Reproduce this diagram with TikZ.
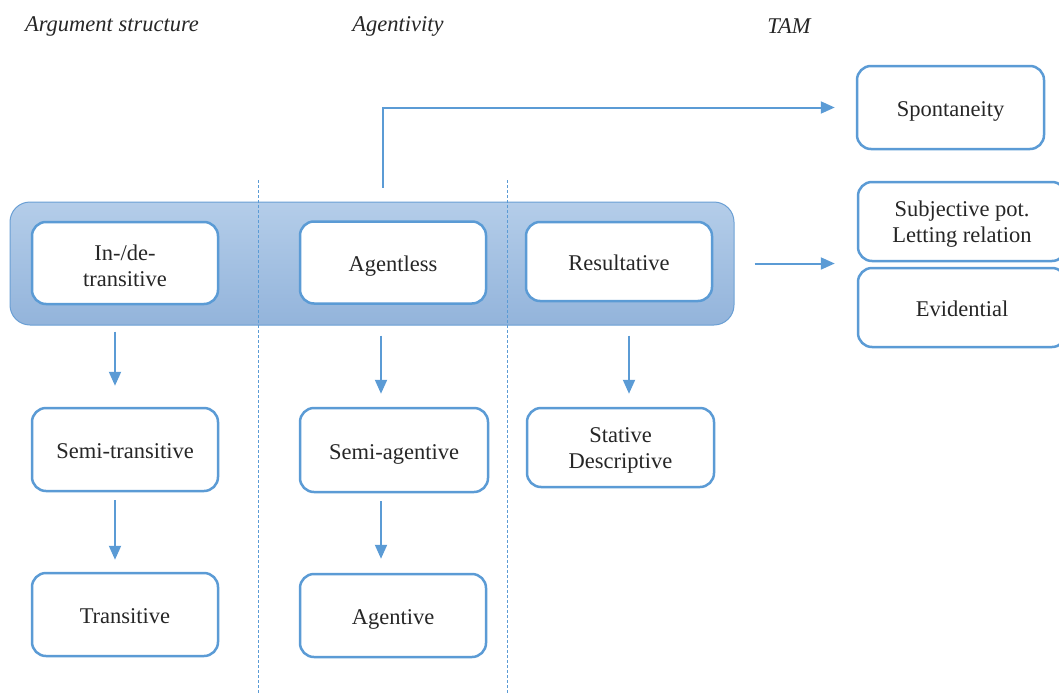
\documentclass[tikz,border=0pt]{standalone}
\usepackage{fontspec}
\setmainfont{Liberation Serif}
\usetikzlibrary{arrows.meta,positioning}
\definecolor{boxblue}{HTML}{5B9BD5}
\definecolor{bandtop}{HTML}{B4CDE9}
\definecolor{bandbot}{HTML}{93B4DB}
\definecolor{bandline}{HTML}{6A9FD4}
\newcommand{\firststrut}{\rule{0pt}{21pt}}
\tikzset{
  class/.style={draw=boxblue,line width=2.5pt,fill=white,rounded corners=14pt,
    minimum width=186pt,minimum height=82pt,align=center},
  oneline/.style={text height=23pt,text depth=5pt},
  band/.style={draw=bandline,line width=1pt,top color=bandtop,bottom color=bandbot,
    rounded corners=20pt,minimum width=724pt,minimum height=123pt},
  heading/.style={font=\fontsize{22.5}{26}\selectfont\itshape},
  divider/.style={boxblue,line width=0.8pt,dash pattern=on 3pt off 2pt},
}

\begin{document}
\begin{tikzpicture}[x=1pt,y=-1pt,>={Triangle[length=14pt,width=12pt]},
    arr/.style={->,boxblue,line width=2pt},
    font=\fontsize{22.5}{26}\selectfont,text=black!85]
    \useasboundingbox (0,0) rectangle (1059,693);

    \node[heading] (hArg) at (112,26) {Argument structure};
    \node[heading] (hAg) at (398,26) {Agentivity};
    \node[heading] (hTam) at (789,26) {TAM};

    \coordinate (d1top) at (258,180);
    \coordinate (d1bot) at (258,693);
    \coordinate (d2top) at (507,180);
    \coordinate (d2bot) at (507,693);

    \node[band] (band) at (372,263.5) {};
    \draw[divider] (d1top) -- (d1bot);
    \draw[divider] (d2top) -- (d2bot);

    \node[class] (intrans) at (125,263) {\firststrut In-/de-\\transitive};
    \node[class,oneline] (agentless) at (393,262.5) {Agentless};
    \node[class,oneline,minimum height=79pt] (result) at (619,261.5) {Resultative};

    \node[class,oneline,minimum width=187pt,minimum height=83pt] (spont) at (950.5,107.5) {Spontaneity};
    \node[class,minimum width=208pt,minimum height=79pt] (subj) at (962,221.5) {\firststrut Subjective pot.\\Letting relation};
    \node[class,oneline,minimum width=208pt,minimum height=79pt] (evid) at (962,307.5) {Evidential};

    \node[class,oneline,minimum height=83pt] (semitr) at (125,449.5) {Semi-transitive};
    \node[class,oneline,minimum height=83pt] (trans) at (125,614.5) {Transitive};
    \node[class,oneline,minimum width=188pt,minimum height=84pt] (semiag) at (394,450) {Semi-agentive};
    \node[class,oneline,minimum height=83pt] (agentive) at (393,615.5) {Agentive};
    \node[class,minimum width=187pt,minimum height=79pt] (stative) at (620.5,447.5) {\firststrut Stative\\Descriptive};

    \path[arr]
        ([xshift=-10pt]intrans.south |- band.south) edge[shorten <=6pt,shorten >=21pt] ([xshift=-10pt]semitr.north)
        ([xshift=-10pt]semitr.south) edge[shorten <=8pt,shorten >=12pt] ([xshift=-10pt]trans.north)
        ([xshift=-12pt]agentless.south |- band.south) edge[shorten <=10pt,shorten >=13pt] ([xshift=-13pt]semiag.north)
        ([xshift=-13pt]semiag.south) edge[shorten <=8pt,shorten >=14pt] ([xshift=-12pt]agentive.north)
        ([xshift=10pt]result.south |- band.south) edge[shorten <=10pt,shorten >=13pt] ([xshift=8.5pt]stative.north)
        (band.east) edge[shorten <=20pt,shorten >=22pt] (band.east -| subj.west);
    \draw[arr,shorten <=14pt,shorten >=21pt] ([xshift=-10pt]agentless.north |- band.north) |- (spont.west);
\end{tikzpicture}
\end{document}
